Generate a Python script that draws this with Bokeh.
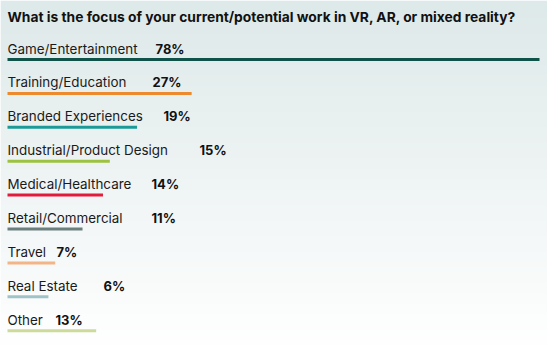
import numpy as np
from bokeh.plotting import figure
from bokeh.models import Range1d, Label, ColumnDataSource
from bokeh.embed import file_html
from bokeh.resources import INLINE
from bokeh.core.properties import value

# ---- data ----
categories = ["Game/Entertainment", "Training/Education", "Branded Experiences",
              "Industrial/Product Design", "Medical/Healthcare", "Retail/Commercial",
              "Travel", "Real Estate", "Other"]
percent = [78, 27, 19, 15, 14, 11, 7, 6, 13]
title_text = "What is the focus of your current/potential work in VR, AR, or mixed reality?"

# ---- styles ----
colors = ["#0f5249", "#ee8a2e", "#1b9b97", "#9dc23f", "#e21d3c", "#6c7f7f",
          "#f3b585", "#9ec4c7", "#ccdb99"]
pct_gap = [18, 23, 19, 27, 19, 24, 11, 24, 11]   # px gap from label end to percent label

W, H = 547, 346
FONT = "Inter"

px_per = (539 - 7) / 78.0
x0 = -7 / px_per
x1 = (W - 7) / px_per
step = 33.9
ytop = -59 / step
ybot = (H - 59) / step

p = figure(width=W, height=H, output_backend="svg", toolbar_location=None,
           x_range=Range1d(x0, x1), y_range=Range1d(ybot, ytop),
           min_border=0, min_border_left=0, min_border_right=0,
           min_border_top=0, min_border_bottom=0)
p.axis.visible = False
p.grid.visible = False
p.outline_line_color = None
p.background_fill_color = "white"
p.border_fill_color = "white"

# background gradient
n = 200
top = np.array([222, 233, 233], dtype=float)
bot = np.array([255, 255, 255], dtype=float)
img = np.zeros((n, 1), dtype=np.uint32)
view = img.view(dtype=np.uint8).reshape((n, 1, 4))
for k in range(n):
    t = k / (n - 1)  # k=0 is at ytop (screen top)
    c = top * (1 - t) + bot * t
    view[k, 0, 0] = int(c[0]); view[k, 0, 1] = int(c[1]); view[k, 0, 2] = int(c[2]); view[k, 0, 3] = 255
p.image_rgba(image=[img], x=x0, y=ytop, dw=x1 - x0, dh=ybot - ytop)

ys = list(range(len(categories)))
src = ColumnDataSource(dict(y=ys, v=percent, c=colors, cat=categories,
                            pct=[f"{v}%" for v in percent], zero=[0] * len(ys)))

p.segment(x0="zero", y0="y", x1="v", y1="y", line_color="c", line_width=3,
          line_cap="butt", source=src)

p.text(x="zero", y="y", text="cat", source=src, y_offset=-3,
       text_font=value(FONT), text_font_size="13.4px", text_color="#1a1a1a",
       text_baseline="bottom", text_align="left")

label_end = [137, 129, 144, 172, 132, 127, 45, 79, 44]
pct_x = [(label_end[i] + pct_gap[i] - 7) / px_per for i in range(len(ys))]
src.data["px"] = pct_x
p.text(x="px", y="y", text="pct", source=src, y_offset=-3,
       text_font=value(FONT), text_font_size="13px", text_font_style="bold",
       text_color="#111111", text_baseline="bottom", text_align="left")

p.add_layout(Label(x=7, y=H - 8, x_units="screen", y_units="screen",
                   text=title_text, text_font=FONT, text_font_size="13.8px",
                   text_font_style="bold", text_color="#111111",
                   text_baseline="top", text_align="left"))

open("out.html", "w").write(file_html(p, INLINE))
